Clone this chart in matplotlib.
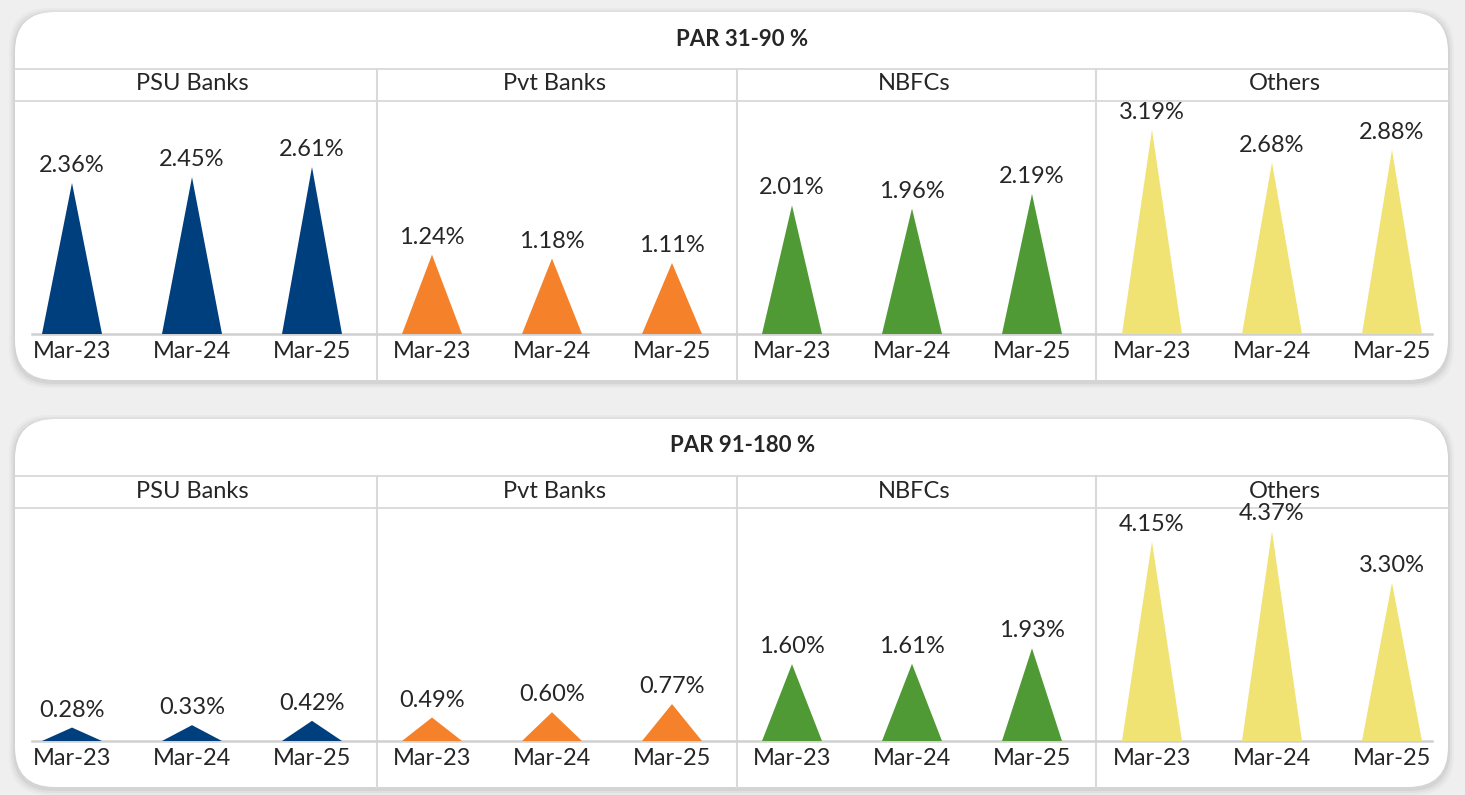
import matplotlib
matplotlib.use("Agg")
import matplotlib.pyplot as plt
from matplotlib.patches import FancyBboxPatch, Polygon

plt.rcParams["font.family"] = ["Lato", "DejaVu Sans"]

# 数据
groups = ["PSU Banks", "Pvt Banks", "NBFCs", "Others"]
years = ["Mar-23", "Mar-24", "Mar-25"]
colors = ["#003f7d", "#f5822a", "#4f9a35", "#f1e274"]

par_31_90 = [
    [2.36, 2.45, 2.61],
    [1.24, 1.18, 1.11],
    [2.01, 1.96, 2.19],
    [3.19, 2.68, 2.88],
]
par_91_180 = [
    [0.28, 0.33, 0.42],
    [0.49, 0.60, 0.77],
    [1.60, 1.61, 1.93],
    [4.15, 4.37, 3.30],
]
titles = ["PAR 31-90 %", "PAR 91-180 %"]

W, H = 1465, 795
fig = plt.figure(figsize=(W / 100, H / 100), dpi=100)
fig.patch.set_facecolor("#efefef")

# 背景层 (像素坐标)
bg = fig.add_axes([0, 0, 1, 1])
bg.set_xlim(0, W)
bg.set_ylim(H, 0)
bg.axis("off")

text_color = "#262626"
line_color = "#d9d9d9"

# 每个面板: 卡片上/下边, 标题行线, 表头行线, 基线
panels = [
    dict(top=12, bottom=380, line1=69, line2=101, base=334, title_y=40, head_y=84, ymax=233 / 64),
    dict(top=419, bottom=787, line1=476, line2=508, base=741, title_y=446, head_y=491, ymax=233 / 48),
]

ax_left, ax_right = 32, 1432
xlim = (-1 / 3, 11 + 1 / 3)
width = 0.5
dividers = [2.54, 5.54, 8.53]
head_shift = [0, 0.02, 0.02, 0.11]  # 表头微调


def to_px(x):
    return ax_left + (x - xlim[0]) / (xlim[1] - xlim[0]) * (ax_right - ax_left)


for p, data, title in zip(panels, [par_31_90, par_91_180], titles):
    # 卡片阴影 + 卡片
    for k, a in [(6, 0.025), (4, 0.035), (2, 0.05)]:
        sh = FancyBboxPatch((15 + 40 - k, p["top"] + 40 - k + 2), 1433 - 80 + 2 * k,
                            p["bottom"] - p["top"] - 80 + 2 * k,
                            boxstyle="round,pad=40", fc="black", ec="none", alpha=a, zorder=0.5)
        bg.add_patch(sh)
    card = FancyBboxPatch((15 + 40, p["top"] + 40), 1433 - 80, p["bottom"] - p["top"] - 80,
                          boxstyle="round,pad=40", fc="white", ec="none", zorder=1)
    bg.add_patch(card)
    bg.text(W / 2 + 10, p["title_y"], title, ha="center", va="center",
            fontsize=16, fontweight="bold", color=text_color, zorder=3)
    bg.plot([15, 1448], [p["line1"], p["line1"]], color=line_color, lw=1.3, zorder=2)
    bg.plot([15, 1448], [p["line2"], p["line2"]], color=line_color, lw=1.3, zorder=2)

    # 图表区
    ax = fig.add_axes([ax_left / W, (H - p["base"]) / H,
                       (ax_right - ax_left) / W, (p["base"] - p["line2"]) / H])
    ax.set_facecolor("none")
    ax.set_xlim(*xlim)
    ax.set_ylim(0, p["ymax"])
    for s in ["top", "right", "left"]:
        ax.spines[s].set_visible(False)
    ax.spines["bottom"].set_color("#d0d0d0")
    ax.spines["bottom"].set_linewidth(1.8)
    ax.set_yticks([])
    ax.set_xticks(range(12))
    ax.set_xticklabels(years * 4, fontsize=17, color=text_color)
    ax.tick_params(axis="x", length=0, pad=5)

    # 分隔线 (从表头到卡片底部)
    for d in dividers:
        xpix = to_px(d)
        bg.plot([xpix, xpix], [p["line1"], p["bottom"]], color=line_color, lw=1.5, zorder=2)

    # 表头
    for gi, g in enumerate(groups):
        bg.text(to_px(gi * 3 + 1 + head_shift[gi]), p["head_y"], g, ha="center", va="center",
                fontsize=17, color=text_color, zorder=3)

    # 三角形柱
    for gi, vals in enumerate(data):
        for yi, v in enumerate(vals):
            x = gi * 3 + yi
            tri = Polygon([[x - width / 2, 0], [x, v], [x + width / 2, 0]],
                          closed=True, fc=colors[gi], ec="none", zorder=3)
            ax.add_patch(tri)
            ax.annotate(f"{v:.2f}%", (x, v), xytext=(0, 5), textcoords="offset points",
                        ha="center", va="bottom", fontsize=17, color=text_color,
                        annotation_clip=False)

fig.savefig("out.png", dpi=100, facecolor=fig.get_facecolor())
